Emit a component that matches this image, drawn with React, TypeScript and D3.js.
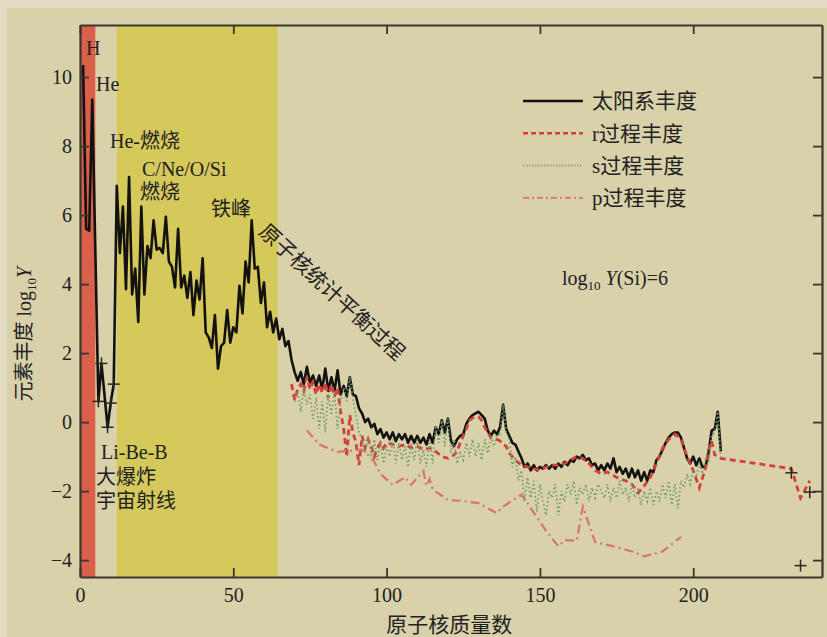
import React, { useRef, useEffect } from 'react';
import * as d3 from 'd3';

// 太阳系丰度 (log10 Y, Si = 10^6), 质量数 A = 1 起, null 为无稳定核
const solarStartMass = 1;
const solarLog: (number | null)[] = [
  10.35, 5.6, 5.55, 9.35, null, 0.6, 1.7, null, -0.15, 0.55, // 1-10
  1.1, 6.85, 4.9, 6.25, 3.85, 7.1, 3.7, 4.45, 2.9, 6.25, // 11-20
  3.7, 5.1, 4.75, 5.85, 5.0, 5.05, 4.9, 5.95, 4.65, 4.5, // 21-30
  3.9, 5.6, 3.9, 4.25, 3.6, 4.35, 3.1, 4.1, 3.55, 4.75, // 31-40
  2.6, 2.45, 2.15, 3.1, 1.55, 2.2, 2.3, 3.25, 2.3, 2.75, // 41-50
  2.6, 3.95, 3.15, 4.65, 4.05, 5.85, 4.45, 4.5, 3.45, 4.05, // 51-60
  2.75, 3.2, 2.6, 3.0, 2.4, 2.7, 2.2, 2.35, 1.8, 1.45, // 61-70
  1.2, 1.45, 1.1, 1.6, 1.15, 1.35, 1.05, 1.35, 0.95, 1.55, // 71-80
  0.9, 1.3, 0.9, 1.5, 0.8, 1.05, 0.75, 1.3, 0.8, 0.75, // 81-90
  0.4, 0.25, 0.0, 0.1, -0.15, -0.05, -0.35, -0.2, -0.45, -0.3, // 91-100
  -0.5, -0.3, -0.55, -0.35, -0.5, -0.35, -0.6, -0.4, -0.6, -0.4, // 101-110
  -0.6, -0.45, -0.65, -0.35, -0.6, -0.15, -0.35, 0.05, -0.3, 0.1, // 111-120
  -0.55, -0.7, -0.5, -0.4, -0.35, -0.05, 0.1, 0.2, 0.25, 0.3, // 121-130
  0.2, 0.1, -0.25, -0.4, -0.25, -0.35, -0.15, 0.5, -0.2, -0.4, // 131-140
  -0.6, -0.65, -0.85, -1.05, -1.3, -1.2, -1.4, -1.25, -1.4, -1.3, // 141-150
  -1.35, -1.25, -1.35, -1.25, -1.35, -1.2, -1.3, -1.15, -1.25, -1.1, // 151-160
  -1.15, -1.0, -1.05, -0.95, -1.1, -1.05, -1.25, -1.2, -1.4, -1.25, // 161-170
  -1.4, -1.2, -1.35, -1.05, -1.45, -1.3, -1.5, -1.35, -1.6, -1.35, // 171-180
  -1.6, -1.4, -1.7, -1.45, -1.7, -1.4, -1.45, -1.1, -1.0, -0.8, // 181-190
  -0.6, -0.45, -0.35, -0.3, -0.3, -0.45, -0.75, -1.05, -1.2, -1.0, // 191-200
  -1.25, -1.05, -1.3, -1.3, -0.9, -0.25, -0.2, 0.3, -0.85, // 201-209
];

// s过程丰度, A = 70 起
const sStartMass = 70;
const sProcessLog = [
  0.6, 0.9, 0.3, 1.0, 0.5, 0.8, 0.1, 0.7, -0.2, 0.6, // 70-79
  -0.3, 0.8, 0.2, 0.9, -0.2, 0.6, 1.0, 0.6, 1.3, 0.7, // 80-89
  0.2, -0.3, -0.5, -0.9, -0.4, -1.0, -0.5, -1.1, -0.6, -1.2, // 90-99
  -0.7, -1.0, -0.5, -1.2, -0.6, -1.1, -0.7, -1.3, -0.6, -1.1, // 100-109
  -0.5, -1.2, -0.8, -1.3, -0.5, -1.2, -0.1, -0.6, 0.05, -0.7, // 110-119
  0.1, -0.9, -0.5, -1.2, -0.9, -1.1, -0.6, -1.0, -0.5, -1.0, // 120-129
  -0.6, -1.1, -0.5, -0.9, -0.4, -0.7, -0.35, -0.4, 0.5, -0.3, // 130-139
  -0.5, -1.3, -1.0, -1.7, -1.4, -2.3, -1.6, -2.2, -1.7, -2.6, // 140-149
  -1.8, -2.3, -2.7, -2.0, -2.2, -1.8, -2.7, -2.0, -2.3, -1.8, // 150-159
  -2.1, -1.7, -2.4, -1.9, -2.1, -1.8, -2.3, -1.9, -2.2, -1.8, // 160-169
  -2.0, -2.2, -1.8, -2.3, -1.9, -2.2, -1.7, -2.1, -1.9, -2.3, // 170-179
  -1.8, -2.2, -1.9, -2.4, -2.0, -2.3, -1.9, -2.4, -2.0, -2.3, // 180-189
  -1.8, -2.2, -1.7, -2.4, -1.8, -2.5, -1.7, -1.9, -1.5, -1.8, // 190-199
  -1.4, -1.6, -1.2, -1.5, -1.1, -1.2, -0.4, -0.3, 0.3, -1.1, // 200-209
];

// r过程丰度
const rProcessMass = [
  69, 70, 71, 72, 73, 74, 75, 76, 77, 78,
  79, 80, 81, 82, 83, 84, 85, 86, 87, 88,
  89, 90, 91, 92, 93, 94, 95, 96, 97, 98,
  99, 100, 102, 104, 106, 108, 110, 112, 114, 116,
  118, 120, 122, 123, 124, 125, 126, 127, 128, 130,
  131, 132, 134, 136, 137, 138, 139, 140, 142, 144,
  146, 148, 150, 152, 154, 156, 158, 160, 162, 164,
  166, 168, 170, 172, 174, 176, 178, 180, 182, 184,
  186, 188, 190, 192, 194, 196, 198, 200, 202, 204,
  205, 206, 207, 209, 232, 235, 238,
];
const rProcessLog = [
  1.1, 0.65, 0.95, 1.1, 0.9, 1.3, 0.95, 1.15, 0.8, 1.1,
  0.85, 1.15, 0.7, 1.1, 0.75, 1.0, 0.3, -0.2, -1.0, 0.2,
  -0.3, -0.6, -1.25, -0.4, -0.75, -0.5, -0.7, -1.0, -0.75, -0.6,
  -0.75, -0.6, -0.65, -0.7, -0.65, -0.75, -0.7, -0.8, -0.75, -0.85,
  -1.0, -1.05, -0.95, -0.85, -0.6, -0.4, -0.2, 0.05, 0.12, 0.15,
  0.05, -0.15, -0.45, -0.5, -0.55, -0.65, -0.7, -0.9, -1.1, -1.25,
  -1.3, -1.35, -1.4, -1.3, -1.25, -1.25, -1.2, -1.1, -1.0, -1.05,
  -1.2, -1.4, -1.5, -1.45, -1.55, -1.65, -1.7, -1.8, -2.05, -1.85,
  -1.6, -1.2, -0.75, -0.5, -0.35, -0.5, -1.0, -1.4, -1.9, -1.35,
  -0.8, -0.55, -0.95, -1.05, -1.35, -2.2, -1.7,
];

// p过程丰度
const pProcessMass = [
  74, 78, 84, 92, 94, 96, 98, 102, 106, 108,
  112, 113, 114, 115, 120, 124, 126, 130, 132, 136,
  138, 144, 152, 156, 158, 162, 164, 168, 174, 180,
  184, 190, 196,
];
const pProcessLog = [
  -0.24, -0.65, -0.86, -0.8, -0.95, -1.15, -1.5, -1.82, -1.6, -1.82,
  -1.42, -1.85, -1.65, -1.95, -2.26, -2.28, -2.3, -2.35, -2.45, -2.64,
  -2.45, -2.1, -3.15, -3.6, -3.42, -3.44, -2.45, -3.48, -3.6, -3.75,
  -3.89, -3.75, -3.33,
];

// Li/Be/B 与 Th/U 的 "+" 标记
const markerMass = [6, 7, 9, 10, 11, 232, 235, 238];
const markerLog = [0.6, 1.7, -0.15, 0.55, 1.1, -1.47, -4.16, -2.03];

// 背景色带 (质量数范围)
const bandStart = [0, 12];
const bandEnd = [5, 64.5];

const xTicks = [0, 50, 100, 150, 200];
const yTicks = [-4, -2, 0, 2, 4, 6, 8, 10];
const legendLabels = ['太阳系丰度', 'r过程丰度', 's过程丰度', 'p过程丰度'];

const FONT = "'Liberation Serif', 'Noto Sans CJK SC', serif";

const App: React.FC = () => {
  const svgRef = useRef<SVGSVGElement | null>(null);
  const chartWidth = 827;
  const chartHeight = 637;

  useEffect(() => {
    document.body.style.margin = '0';
    if (!svgRef.current) return;

    const root = d3.select(svgRef.current);
    root.selectAll('*').remove();

    const margin = { top: 25, right: 5, bottom: 60, left: 80 };
    const width = chartWidth - margin.left - margin.right;
    const height = chartHeight - margin.top - margin.bottom;

    root.attr('width', chartWidth).attr('height', chartHeight);

    // 背景
    root.append('rect').attr('width', chartWidth).attr('height', chartHeight).attr('fill', '#d8d1aa');
    root.append('rect').attr('width', chartWidth).attr('height', 8).attr('fill', '#e2dcc3');
    root.append('rect').attr('width', 7).attr('height', chartHeight).attr('fill', '#e2dcc3');

    const svg = root.append('g').attr('transform', `translate(${margin.left},${margin.top})`);

    const x = d3.scaleLinear().domain([0, 242]).range([0, width]);
    const y = d3.scaleLinear().domain([-4.49, 11.51]).range([height, 0]);

    svg.append('clipPath').attr('id', 'plot-clip')
      .append('rect').attr('width', width).attr('height', height);

    // 色带
    const bandColors = ['#d9604b', '#d6c95c'];
    bandStart.forEach((s, i) => {
      svg.append('rect')
        .attr('x', x(s))
        .attr('y', 0)
        .attr('width', x(bandEnd[i]) - x(s))
        .attr('height', height)
        .attr('fill', bandColors[i]);
    });

    // 数据整形
    const solarData: [number, number][] = [];
    solarLog.forEach((v, i) => { if (v !== null) solarData.push([solarStartMass + i, v]); });
    const sData: [number, number][] = sProcessLog.map((v, i) => [sStartMass + i, v]);
    const rData: [number, number][] = rProcessMass.map((m, i) => [m, rProcessLog[i]]);
    const pData: [number, number][] = pProcessMass.map((m, i) => [m, pProcessLog[i]]);

    const line = d3.line<[number, number]>()
      .x(d => x(d[0]))
      .y(d => y(d[1]));

    const plot = svg.append('g').attr('clip-path', 'url(#plot-clip)');

    plot.append('path').datum(solarData)
      .attr('d', line).attr('fill', 'none')
      .attr('stroke', '#141210').attr('stroke-width', 2.6).attr('stroke-linejoin', 'round');

    plot.append('path').datum(rData)
      .attr('d', line).attr('fill', 'none')
      .attr('stroke', '#d2413a').attr('stroke-width', 2.8)
      .attr('stroke-dasharray', '6,4');

    plot.append('path').datum(sData)
      .attr('d', line).attr('fill', 'none')
      .attr('stroke', '#6f9c6a').attr('stroke-width', 1.7)
      .attr('stroke-dasharray', '1.5,2.5');

    plot.append('path').datum(pData)
      .attr('d', line).attr('fill', 'none')
      .attr('stroke', '#d5766a').attr('stroke-width', 2.2)
      .attr('stroke-dasharray', '9,4,2,4');

    // "+" 标记
    const markers = plot.selectAll<SVGGElement, number>('.marker')
      .data(markerMass)
      .enter().append('g')
      .attr('class', 'marker')
      .attr('transform', (d, i) => `translate(${x(d)},${y(markerLog[i])})`);
    markers.append('line').attr('x1', -6).attr('x2', 6).attr('stroke', '#2a2622').attr('stroke-width', 1.5);
    markers.append('line').attr('y1', -6).attr('y2', 6).attr('stroke', '#2a2622').attr('stroke-width', 1.5);

    // 坐标轴
    const fmt = (d: d3.NumberValue) => (+d < 0 ? `\u2212${-d}` : `${d}`);
    const axisColor = '#3a3630';

    const gBottom = svg.append('g').attr('transform', `translate(0,${height})`)
      .call(d3.axisBottom(x).tickValues(xTicks).tickSize(-9).tickSizeOuter(0).tickPadding(11).tickFormat(fmt));
    const gLeft = svg.append('g')
      .call(d3.axisLeft(y).tickValues(yTicks).tickSize(-9).tickSizeOuter(0).tickPadding(8).tickFormat(fmt));
    const gTop = svg.append('g')
      .call(d3.axisTop(x).tickValues(xTicks).tickSize(-9).tickSizeOuter(0).tickFormat(() => ''));
    const gRight = svg.append('g').attr('transform', `translate(${width},0)`)
      .call(d3.axisRight(y).tickValues(yTicks).tickSize(-9).tickSizeOuter(0).tickFormat(() => ''));

    [gBottom, gLeft, gTop, gRight].forEach(g => {
      g.select('.domain').attr('stroke', axisColor).attr('stroke-width', 2.2);
      g.selectAll('.tick line').attr('stroke', axisColor).attr('stroke-width', 1.8);
      g.selectAll('.tick text')
        .attr('fill', '#222')
        .style('font-family', FONT)
        .style('font-size', '20px');
    });

    // 轴标题
    svg.append('text')
      .attr('x', x(120.4))
      .attr('y', height + 55)
      .attr('text-anchor', 'middle')
      .attr('fill', '#222')
      .style('font-family', FONT)
      .style('font-size', '21px')
      .text('原子核质量数');

    const yTitle = svg.append('text')
      .attr('transform', `translate(${-56},${y(2.55)}) rotate(-90)`)
      .attr('text-anchor', 'middle')
      .attr('dy', '0.35em')
      .attr('fill', '#222')
      .style('font-family', FONT)
      .style('font-size', '20px');
    yTitle.append('tspan').text('元素丰度 log');
    yTitle.append('tspan').attr('dy', 5).style('font-size', '13px').text('10');
    yTitle.append('tspan').attr('dy', -5).style('font-style', 'italic').text('Y');

    // 注释
    const ann = (tx: number, ty: number, t: string, size = 20) =>
      root.append('text')
        .attr('x', tx).attr('y', ty)
        .attr('fill', '#222')
        .style('font-family', FONT)
        .style('font-size', `${size}px`)
        .text(t);

    ann(86, 55, 'H');
    ann(96, 91, 'He');
    ann(110, 148, 'He-燃烧');
    ann(142, 176, 'C/Ne/O/Si');
    ann(140, 199, '燃烧');
    ann(211, 216, '铁峰');
    ann(101, 459, 'Li-Be-B');
    ann(96, 484, '大爆炸');
    ann(96, 508, '宇宙射线');

    root.append('text')
      .attr('transform', 'translate(332,292) rotate(42.7)')
      .attr('text-anchor', 'middle')
      .attr('dy', '0.35em')
      .attr('fill', '#222')
      .style('font-family', FONT)
      .style('font-size', '21px')
      .text('原子核统计平衡过程');

    const siText = root.append('text')
      .attr('x', 562).attr('y', 285)
      .attr('fill', '#222')
      .style('font-family', FONT)
      .style('font-size', '20px');
    siText.append('tspan').text('log');
    siText.append('tspan').attr('dy', 5).style('font-size', '13px').text('10');
    siText.append('tspan').attr('dy', -5).text(' ');
    siText.append('tspan').style('font-style', 'italic').text('Y');
    siText.append('tspan').text('(Si)=6');

    // 图例
    const legendStyles = [
      { stroke: '#141210', width: 2.4, dash: null as string | null },
      { stroke: '#d2413a', width: 2.4, dash: '5,3' },
      { stroke: '#8fa88a', width: 2, dash: '1.5,1.5' },
      { stroke: '#d98272', width: 2.4, dash: '6,3,2,3' },
    ];
    const legend = root.append('g').attr('transform', 'translate(523,101)');
    legendLabels.forEach((label, i) => {
      const st = legendStyles[i];
      const yy = i * 32.3;
      const l = legend.append('line')
        .attr('x1', 0).attr('x2', 60)
        .attr('y1', yy).attr('y2', yy)
        .attr('stroke', st.stroke)
        .attr('stroke-width', st.width);
      if (st.dash) l.attr('stroke-dasharray', st.dash);
      legend.append('text')
        .attr('x', 69).attr('y', yy)
        .attr('dy', '0.35em')
        .attr('fill', '#222')
        .style('font-family', FONT)
        .style('font-size', '21px')
        .text(label);
    });
  }, []);

  return (
    <svg ref={svgRef} style={{ display: 'block' }} width={chartWidth} height={chartHeight}></svg>
  );
};

export default App;
